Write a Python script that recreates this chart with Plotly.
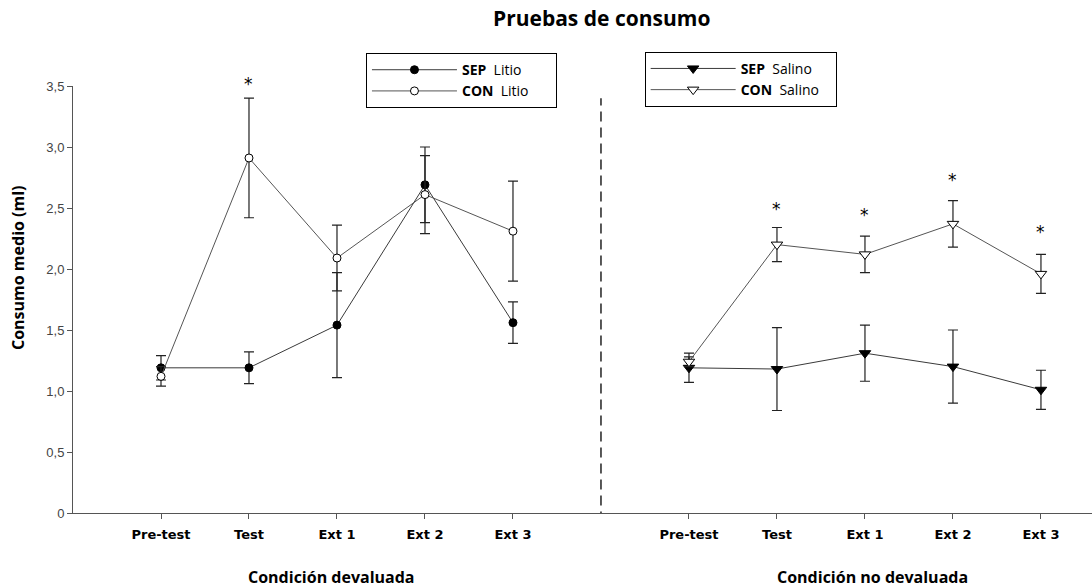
"""
Pruebas de consumo: SEP vs CON under lithium (devaluada) and saline
(no devaluada) conditions, means with error bars.
"""

import plotly.graph_objects as go

# Sessions and x positions (left block, gap with dashed line, right block)
sessions = ["Pre-test", "Test", "Ext 1", "Ext 2", "Ext 3"]
x_left = [1, 2, 3, 4, 5]
x_right = [7, 8, 9, 10, 11]

# Condicion devaluada (Litio)
sep_litio = [1.19, 1.19, 1.54, 2.69, 1.56]
sep_litio_err = [0.10, 0.13, 0.43, 0.31, 0.17]
con_litio = [1.12, 2.91, 2.09, 2.61, 2.31]
con_litio_err = [0.08, 0.49, 0.27, 0.32, 0.41]

# Condicion no devaluada (Salino)
sep_salino = [1.19, 1.18, 1.31, 1.20, 1.01]
sep_salino_err = [0.12, 0.34, 0.23, 0.30, 0.16]
con_salino = [1.24, 2.20, 2.12, 2.37, 1.96]
con_salino_err = [0.04, 0.14, 0.15, 0.19, 0.16]

# Significance stars (x position, y position)
star_x = [2, 8, 9, 10, 11]
star_y = [3.52, 2.49, 2.44, 2.73, 2.30]

y_max = 3.5
y_ticks = [0, 0.5, 1.0, 1.5, 2.0, 2.5, 3.0, 3.5]
y_ticktext = ["0", "0,5", "1,0", "1,5", "2,0", "2,5", "3,0", "3,5"]

LINE = "#3a3a3a"
NBSP = "\u00a0"


def err(vals):
    return dict(type="data", array=vals, visible=True, color="#222",
                thickness=1.2, width=5)


fig = go.Figure()

fig.add_trace(go.Scatter(
    x=x_left, y=sep_litio, error_y=err(sep_litio_err),
    mode="lines+markers", name="<b>SEP</b>" + NBSP * 2 + "Litio" + NBSP * 6,
    line=dict(color=LINE, width=1),
    marker=dict(symbol="circle", size=8, color="black",
                line=dict(color="black", width=1)),
    legend="legend"
))
fig.add_trace(go.Scatter(
    x=x_left, y=con_litio, error_y=err(con_litio_err),
    mode="lines+markers", name="<b>CON</b>" + NBSP * 2 + "Litio" + NBSP * 6,
    line=dict(color="#555", width=1),
    marker=dict(symbol="circle", size=8, color="white",
                line=dict(color="black", width=1)),
    legend="legend"
))
fig.add_trace(go.Scatter(
    x=x_right, y=sep_salino, error_y=err(sep_salino_err),
    mode="lines+markers", name="<b>SEP</b>" + NBSP * 2 + "Salino" + NBSP * 3,
    line=dict(color=LINE, width=1),
    marker=dict(symbol="triangle-down", size=10, color="black",
                line=dict(color="black", width=1)),
    legend="legend2"
))
fig.add_trace(go.Scatter(
    x=x_right, y=con_salino, error_y=err(con_salino_err),
    mode="lines+markers", name="<b>CON</b>" + NBSP * 2 + "Salino" + NBSP * 3,
    line=dict(color="#555", width=1),
    marker=dict(symbol="triangle-down", size=10, color="white",
                line=dict(color="black", width=1)),
    legend="legend2"
))

# stars (y domain so the one above 3.5 is not hidden)
for sx, sy in zip(star_x, star_y):
    fig.add_annotation(x=sx, y=sy / y_max, xref="x", yref="y domain",
                       text="*", showarrow=False, yanchor="middle",
                       font=dict(family="DejaVu Sans", size=17, color="black"))

# dashed separator
fig.add_shape(type="line", x0=6, x1=6, y0=-0.07, y1=3.40, xref="x", yref="y",
              line=dict(color="black", width=1.3, dash="10px,6px"))

# condition labels under the axis
fig.add_annotation(x=2.94, y=-0.15, xref="x", yref="paper", yanchor="middle",
                   text="<b>Condición devaluada</b>", showarrow=False,
                   font=dict(family="Open Sans", size=16, color="black"))
fig.add_annotation(x=9.09, y=-0.15, xref="x", yref="paper", yanchor="middle",
                   text="<b>Condición no devaluada</b>", showarrow=False,
                   font=dict(family="Open Sans", size=16, color="black"))

# y axis title
fig.add_annotation(x=-0.054, y=0.576, xref="paper", yref="paper",
                   xanchor="center", yanchor="middle",
                   text="<b>Consumo medio (ml)</b>", textangle=-90,
                   showarrow=False,
                   font=dict(family="Open Sans", size=16, color="black"))

legend_style = dict(bordercolor="black", borderwidth=1, bgcolor="white",
                    font=dict(family="Open Sans", size=14, color="black"),
                    xanchor="left", yanchor="top", itemwidth=85,
                    tracegroupgap=0)

fig.update_layout(
    width=1092, height=588,
    margin=dict(l=73, r=0, t=86, b=75),
    paper_bgcolor="white", plot_bgcolor="white",
    title=dict(text="<b>Pruebas de consumo</b>", x=0.551, xanchor="center",
               y=0.969, yanchor="middle",
               font=dict(family="Open Sans", size=21, color="black")),
    xaxis=dict(range=[0, 11.58], tickvals=x_left + x_right,
               ticktext=sessions + sessions, showgrid=False, zeroline=False,
               showline=True, linecolor="#555", linewidth=1,
               ticks="outside", ticklen=5, tickcolor="#555",
               ticklabelstandoff=4,
               tickfont=dict(family="DejaVu Sans", size=13, color="black",
                             weight="bold")),
    yaxis=dict(range=[0, y_max], tickvals=y_ticks, ticktext=y_ticktext,
               showgrid=False, zeroline=False, showline=True,
               linecolor="#555", linewidth=1, ticks="outside", ticklen=5,
               tickcolor="#555",
               tickfont=dict(family="Liberation Sans", size=13, color="#444")),
    legend=dict(x=0.2875, y=1.077, **legend_style),
    legend2=dict(x=0.561, y=1.08, **legend_style),
    showlegend=True,
)

fig.write_html("out.html", config={"displayModeBar": False},
               post_script="document.body.style.margin='0';")
